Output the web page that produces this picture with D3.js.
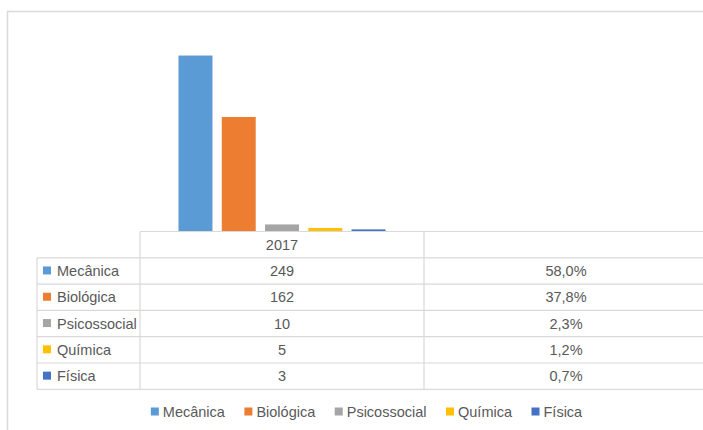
<!DOCTYPE html>
<html>
<head>
<meta charset="utf-8">
<script src="https://cdn.jsdelivr.net/npm/d3@7"></script>
<style>
  body { margin: 0; background: #fff; }
  text { font-family: "Liberation Sans", Arial, sans-serif; fill: #595959; }
</style>
</head>
<body>
<div id="chart"></div>
<script>
// data
var categories = ["2017", ""];
var series = ["Mecânica", "Biológica", "Psicossocial", "Química", "Física"];
var colors = ["#5B9BD5", "#ED7D31", "#A5A5A5", "#FFC000", "#4472C4"];
var counts2017 = [249, 162, 10, 5, 3];
var shares = [0.580, 0.378, 0.023, 0.012, 0.007];
var shareLabels = ["58,0%", "37,8%", "2,3%", "1,2%", "0,7%"];

var W = 703, H = 430;
var plot = {left: 140, right: 708, top: 19.5, bottom: 231.5};
var tableLeft = 37, rowH = 26.3;
var fontSize = 14.5;

var svg = d3.select("#chart").append("svg")
    .attr("width", W)
    .attr("height", H);

// chart area border
svg.append("rect")
    .attr("x", 7.5).attr("y", 11.5)
    .attr("width", 740).attr("height", 500)
    .style("fill", "none")
    .style("stroke", "#D9D9D9")
    .style("stroke-width", 1.5);

var x0 = d3.scaleBand().domain(categories).range([plot.left, plot.right]);
var x1 = d3.scaleBand().domain(series).range([0, x0.bandwidth()])
    .paddingInner(0.215).paddingOuter(0.89);
var y = d3.scaleLinear().domain([0, 300]).range([plot.bottom, plot.top]);

var rows = [];
categories.forEach(function(c, ci) {
    series.forEach(function(s, si) {
	rows.push({cat: c, name: s, value: ci == 0 ? counts2017[si] : shares[si], color: colors[si]});
    });
});

svg.append("g").selectAll("rect").data(rows).enter()
    .append("rect")
    .attr("x", function(d) { return x0(d.cat) + x1(d.name); })
    .attr("y", function(d) { return y(d.value); })
    .attr("width", x1.bandwidth())
    .attr("height", function(d) { return y(0) - y(d.value); })
    .style("fill", function(d) { return d.color; });

// data table
var grid = svg.append("g")
    .style("stroke", "#D9D9D9")
    .style("stroke-width", 1.2);
var top0 = plot.bottom;
var nRows = series.length;
var bottom = top0 + rowH * (nRows + 1);

grid.append("line")
    .attr("x1", plot.left).attr("x2", W + 10)
    .attr("y1", top0).attr("y2", top0);
for (var r = 1; r <= nRows + 1; r++) {
    grid.append("line")
	.attr("x1", tableLeft).attr("x2", W + 10)
	.attr("y1", top0 + r * rowH).attr("y2", top0 + r * rowH);
}
grid.append("line")
    .attr("x1", tableLeft).attr("x2", tableLeft)
    .attr("y1", top0 + rowH).attr("y2", bottom);
categories.forEach(function(c) {
    grid.append("line")
	.attr("x1", x0(c)).attr("x2", x0(c))
	.attr("y1", top0).attr("y2", bottom);
});

// header
svg.append("g").selectAll("text").data(categories).enter()
    .append("text")
    .attr("x", function(d) { return x0(d) + x0.bandwidth() / 2; })
    .attr("y", top0 + rowH / 2)
    .attr("dy", "0.35em")
    .style("text-anchor", "middle")
    .style("font-size", fontSize + "px")
    .text(function(d) { return d; });

var rowG = svg.append("g").selectAll("g").data(series).enter()
    .append("g")
    .attr("transform", function(d, i) { return "translate(0," + (top0 + (i + 1.5) * rowH) + ")"; });

rowG.append("rect")
    .attr("x", 43).attr("y", -4.5)
    .attr("width", 8).attr("height", 8)
    .style("fill", function(d, i) { return colors[i]; });
rowG.append("text")
    .attr("x", 57).attr("dy", "0.35em")
    .style("font-size", fontSize + "px")
    .text(function(d) { return d; });
rowG.append("text")
    .attr("x", x0(categories[0]) + x0.bandwidth() / 2).attr("dy", "0.35em")
    .style("text-anchor", "middle")
    .style("font-size", fontSize + "px")
    .text(function(d, i) { return counts2017[i]; });
rowG.append("text")
    .attr("x", x0(categories[1]) + x0.bandwidth() / 2).attr("dy", "0.35em")
    .style("text-anchor", "middle")
    .style("font-size", fontSize + "px")
    .text(function(d, i) { return shareLabels[i]; });

// legend
var legend = svg.append("g");
var items = legend.selectAll("g").data(series).enter().append("g");
items.append("rect")
    .attr("y", -4.5).attr("width", 8).attr("height", 8)
    .style("fill", function(d, i) { return colors[i]; });
items.append("text")
    .attr("x", 12).attr("dy", "0.35em")
    .style("font-size", fontSize + "px")
    .text(function(d) { return d; });
var pos = 0;
items.each(function() {
    var w = 12 + this.querySelector("text").getComputedTextLength();
    d3.select(this).attr("transform", "translate(" + pos + ",0)");
    pos += w + 19.5;
});
pos -= 19.5;
legend.attr("transform", "translate(" + (366.5 - pos / 2) + ",412)");
</script>
</body>
</html>
